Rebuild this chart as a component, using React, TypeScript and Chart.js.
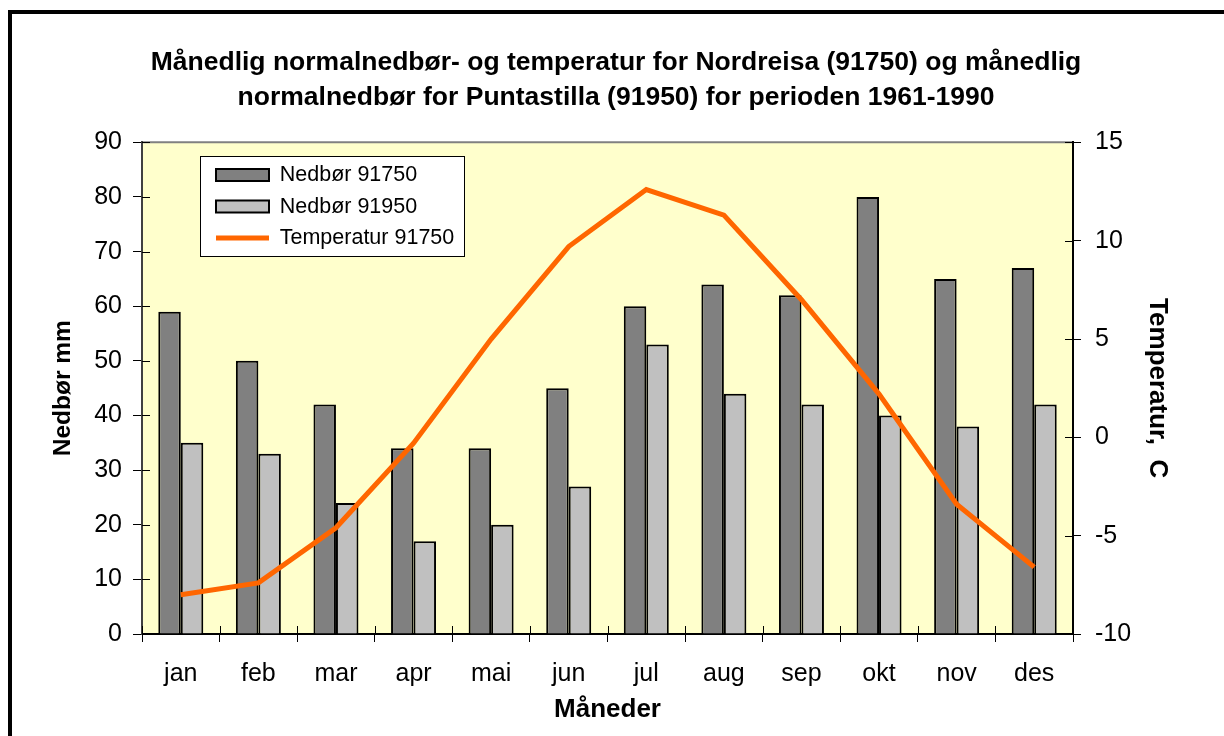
import React, { useEffect, useRef } from 'react';
import { Chart, registerables } from 'chart.js';

Chart.register(...registerables);

const months = ['jan', 'feb', 'mar', 'apr', 'mai', 'jun', 'jul', 'aug', 'sep', 'okt', 'nov', 'des'];
const nedbor91750 = [59, 50, 42, 34, 34, 45, 60, 64, 62, 80, 65, 67];
const nedbor91950 = [35, 33, 24, 17, 20, 27, 53, 44, 42, 40, 38, 42];
const temperatur91750 = [-8.0, -7.4, -4.6, -0.3, 5.0, 9.7, 12.6, 11.3, 7.0, 2.2, -3.4, -6.6];
const titleLines = [
  'Månedlig normalnedbør- og temperatur for Nordreisa (91750) og månedlig',
  'normalnedbør for Puntastilla (91950) for perioden 1961-1990',
];
const seriesNames = ['Nedbør 91750', 'Nedbør 91950', 'Temperatur 91750'];

const FONT = "'Liberation Sans', Arial, Helvetica, sans-serif";

const decorPlugin = {
  id: 'decor',
  afterLayout(chart: any) {
    const lg = chart.legend;
    const a = chart.chartArea;
    if (!lg) return;
    const dx = a.left + 64 - lg.left;
    const dy = a.top + 12 - lg.top;
    lg.left += dx;
    lg.right += dx;
    lg.top += dy;
    lg.bottom += dy;
  },
  beforeDraw(chart: any) {
    const { ctx, chartArea: a } = chart;
    ctx.save();
    ctx.fillStyle = '#FFFFCC';
    ctx.fillRect(a.left, a.top, a.right - a.left, a.bottom - a.top);
    ctx.strokeStyle = '#808080';
    ctx.lineWidth = 2;
    ctx.beginPath();
    ctx.moveTo(a.left, a.top);
    ctx.lineTo(a.right, a.top);
    ctx.stroke();
    const hb = chart.legend && chart.legend.legendHitBoxes;
    if (hb && hb.length) {
      let l = Infinity, t = Infinity, r = -Infinity, b = -Infinity;
      hb.forEach((h: any) => {
        l = Math.min(l, h.left);
        t = Math.min(t, h.top);
        r = Math.max(r, h.left + h.width);
        b = Math.max(b, h.top + h.height);
      });
      const x0 = Math.round(l - 16) + 0.5;
      const y0 = Math.round(t - 8) + 0.5;
      const x1 = Math.round(r + 10) + 0.5;
      const y1 = Math.round(b + 7) + 0.5;
      ctx.fillStyle = '#FFFFFF';
      ctx.fillRect(x0, y0, x1 - x0, y1 - y0);
      ctx.strokeStyle = '#000000';
      ctx.lineWidth = 1;
      ctx.strokeRect(x0, y0, x1 - x0, y1 - y0);
    }
    ctx.restore();
  },
  beforeDatasetsDraw(chart: any) {
    const { ctx, chartArea: a, scales } = chart;
    ctx.save();
    ctx.strokeStyle = '#000000';
    ctx.lineWidth = 1;
    ctx.beginPath();
    scales.y.ticks.forEach((_t: any, i: number) => {
      const py = Math.round(scales.y.getPixelForTick(i)) + 0.5;
      ctx.moveTo(a.left, py);
      ctx.lineTo(a.left + 8, py);
    });
    scales.y1.ticks.forEach((_t: any, i: number) => {
      const py = Math.round(scales.y1.getPixelForTick(i)) + 0.5;
      ctx.moveTo(a.right - 8, py);
      ctx.lineTo(a.right, py);
    });
    for (let i = 0; i <= months.length; i++) {
      const px = Math.round(scales.x.getPixelForValue(i - 0.5)) + 0.5;
      ctx.moveTo(px, a.bottom - 8);
      ctx.lineTo(px, a.bottom);
    }
    ctx.stroke();
    ctx.restore();
  },
};

export default function App() {
  const ref = useRef<HTMLCanvasElement | null>(null);

  useEffect(() => {
    if (!ref.current) return;
    const chart = new Chart(ref.current, {
      data: {
        labels: months,
        datasets: [
          {
            type: 'bar',
            label: seriesNames[0],
            data: nedbor91750,
            backgroundColor: '#808080',
            borderColor: '#000000',
            borderWidth: 2,
            yAxisID: 'y',
            order: 1,
            pointStyle: 'rect',
            categoryPercentage: 0.58,
            barPercentage: 1.0,
          } as any,
          {
            type: 'bar',
            label: seriesNames[1],
            data: nedbor91950,
            backgroundColor: '#C0C0C0',
            borderColor: '#000000',
            borderWidth: 2,
            yAxisID: 'y',
            order: 1,
            pointStyle: 'rect',
            categoryPercentage: 0.58,
            barPercentage: 1.0,
          } as any,
          {
            type: 'line',
            label: seriesNames[2],
            data: temperatur91750,
            borderColor: '#FF6600',
            backgroundColor: '#FF6600',
            borderWidth: 5,
            pointRadius: 0,
            pointHoverRadius: 0,
            pointStyle: 'line',
            pointBorderColor: '#FF6600',
            pointBorderWidth: 5,
            tension: 0,
            yAxisID: 'y1',
            order: 0,
          } as any,
        ],
      },
      options: {
        responsive: false,
        animation: false,
        devicePixelRatio: 1,
        layout: { padding: { left: 8, right: 0, top: 0, bottom: 0 } },
        plugins: {
          title: {
            display: true,
            text: titleLines,
            color: '#000000',
            font: { family: FONT, size: 26.5, weight: 'bold', lineHeight: 1.29 },
            padding: { top: 46, bottom: 28 },
          },
          legend: {
            position: 'chartArea',
            align: 'start',
            labels: {
              usePointStyle: true,
              pointStyleWidth: 53,
              boxWidth: 53,
              boxHeight: 12,
              padding: 10,
              color: '#000000',
              font: { family: FONT, size: 21.5 },
              sort: (a: any, b: any) => a.datasetIndex - b.datasetIndex,
            },
          } as any,
          tooltip: { enabled: false },
        },
        scales: {
          x: {
            type: 'category',
            offset: true,
            grid: { offset: true, drawOnChartArea: false, drawTicks: true, tickLength: 8, color: '#000000', lineWidth: 1 },
            border: { color: '#000000', width: 2 },
            ticks: { color: '#000000', font: { family: FONT, size: 25 }, padding: 17, maxRotation: 0 },
            title: {
              display: true,
              text: 'Måneder',
              color: '#000000',
              font: { family: FONT, size: 26, weight: 'bold' },
              padding: { top: 0, bottom: 11 },
            },
            afterFit: (s: any) => { s.height = 102; },
          },
          y: {
            type: 'linear',
            position: 'left',
            min: 0,
            max: 90,
            ticks: { stepSize: 10, color: '#000000', font: { family: FONT, size: 25 }, padding: 11 },
            grid: { drawOnChartArea: false, drawTicks: true, tickLength: 9, color: '#000000', lineWidth: 1 },
            border: { color: '#404040', width: 2 },
            title: {
              display: true,
              text: 'Nedbør mm',
              color: '#000000',
              font: { family: FONT, size: 24.5, weight: 'bold' },
              padding: { top: 41, bottom: 0 },
            },
            afterFit: (s: any) => { s.width = 134; },
          },
          y1: {
            type: 'linear',
            position: 'right',
            min: -10,
            max: 15,
            ticks: { stepSize: 5, color: '#000000', font: { family: FONT, size: 25 }, padding: 14 },
            grid: { drawOnChartArea: false, drawTicks: true, tickLength: 8, color: '#000000', lineWidth: 1 },
            border: { color: '#000000', width: 2 },
            title: {
              display: true,
              text: 'Temperatur,  C',
              color: '#000000',
              font: { family: FONT, size: 26, weight: 'bold' },
              padding: { top: 51, bottom: 0 },
            },
            afterFit: (s: any) => { s.width = 151; },
          },
        },
      } as any,
      plugins: [decorPlugin],
    });
    return () => chart.destroy();
  }, []);

  return (
    <div style={{ position: 'fixed', left: 0, top: 0, width: 1224, height: 736, overflow: 'hidden', background: '#FFFFFF' }}>
      <div
        style={{
          position: 'absolute',
          left: 8,
          top: 10,
          width: 1400,
          height: 900,
          border: '4px solid #000000',
          boxSizing: 'border-box',
        }}
      />
      <canvas ref={ref} width={1224} height={736} style={{ position: 'absolute', left: 0, top: 0, width: 1224, height: 736 }} />
    </div>
  );
}
